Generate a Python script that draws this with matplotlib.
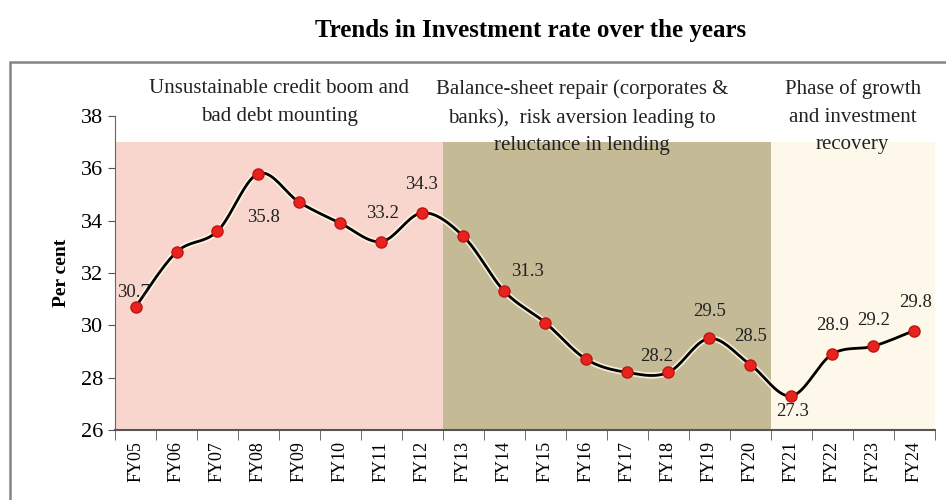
import numpy as np
import matplotlib.pyplot as plt
import matplotlib.patheffects as pe
from matplotlib.patches import Rectangle

plt.rcParams['font.family'] = ['Liberation Serif', 'DejaVu Serif']

years = ['FY05', 'FY06', 'FY07', 'FY08', 'FY09', 'FY10', 'FY11', 'FY12', 'FY13', 'FY14',
         'FY15', 'FY16', 'FY17', 'FY18', 'FY19', 'FY20', 'FY21', 'FY22', 'FY23', 'FY24']
rate = [30.7, 32.8, 33.6, 35.8, 34.7, 33.9, 33.2, 34.3, 33.4, 31.3,
        30.1, 28.7, 28.2, 28.2, 29.5, 28.5, 27.3, 28.9, 29.2, 29.8]

# phases: first year, last year, colour, caption
phase_start = ['FY05', 'FY13', 'FY21']
phase_end = ['FY12', 'FY20', 'FY24']
phase_color = ['#f8d6cd', '#c4ba96', '#fdf8ea']
phase_text = ['Unsustainable credit boom and\nbad debt mounting',
              'Balance-sheet repair (corporates &\nbanks),  risk aversion leading to\nreluctance in lending',
              'Phase of growth\nand investment\nrecovery']
caption_shift = [0, -0.6, 0]
shade_top = 37

# which points get a value label and where (dx, dy in pixels)
label_pos = {'FY05': (-2, 15), 'FY08': (5, -44), 'FY11': (1, 28), 'FY12': (-1, 28),
             'FY14': (23, 20), 'FY18': (-12, 16), 'FY19': (0, 27), 'FY20': (0, 28),
             'FY21': (1, -16), 'FY22': (0, 29), 'FY23': (0, 26), 'FY24': (1, 28)}


def smooth(x, y, n=20):
    # Catmull-Rom curve through the points, like a smoothed spreadsheet line
    p = np.column_stack([x, y]).astype(float)
    p = np.vstack([p[0], p, p[-1]])
    out = []
    for i in range(1, len(p) - 2):
        p0, p1, p2, p3 = p[i - 1], p[i], p[i + 1], p[i + 2]
        t = np.linspace(0, 1, n, endpoint=False)[:, None]
        seg = 0.5 * ((2 * p1) + (-p0 + p2) * t + (2 * p0 - 5 * p1 + 4 * p2 - p3) * t ** 2
                     + (-p0 + 3 * p1 - 3 * p2 + p3) * t ** 3)
        out.append(seg)
    out.append(p[-2][None, :])
    out = np.vstack(out)
    return out[:, 0], out[:, 1]


fig = plt.figure(figsize=(9.46, 5), dpi=100)
ax = fig.add_axes([0.1216, 0.14, 0.8664, 0.628])

# outer frame
fig.patches.append(Rectangle((10 / 946, -0.1), 1.1, 1.1 - 62 / 500, transform=fig.transFigure,
                             fill=False, edgecolor='#858585', linewidth=1.8))

fig.text(0.561, 0.94, 'Trends in Investment rate over the years', ha='center', va='center',
         fontsize=18, fontweight='bold')

x = np.arange(len(years))
for s, e, c, t, sh in zip(phase_start, phase_end, phase_color, phase_text, caption_shift):
    i0, i1 = years.index(s) - 0.5, years.index(e) + 0.5
    ax.fill_between([i0, i1], 26, shade_top, color=c, linewidth=0, zorder=0)
    ax.text((i0 + i1) / 2 + sh, 39.4, t, ha='center', va='top', fontsize=15,
            linespacing=1.6, clip_on=False, color='#222222')

sx, sy = smooth(x, rate)
ax.plot(sx, sy, color='black', linewidth=2, zorder=3,
        path_effects=[pe.Stroke(linewidth=4.5, foreground='#fffbe6', alpha=0.8), pe.Normal()])
ax.plot(x, rate, 'o', color='#e8231f', markeredgecolor='#c01510', markersize=8, zorder=4)

for yr, (dx, dy) in label_pos.items():
    i = years.index(yr)
    ax.annotate(f'{rate[i]:.1f}', (x[i], rate[i]), xytext=(dx, dy), textcoords='offset pixels',
                ha='center', va='center', fontsize=13.5, color='#222222', zorder=5)

ax.set_xlim(-0.5, len(years) - 0.5)
ax.set_ylim(26, 38)
ax.set_yticks(range(26, 39, 2))
ax.set_xticks(x)
ax.set_xticklabels(years, rotation=90, fontsize=13)
ax.set_xticks(np.arange(-0.5, len(years)), minor=True)
ax.tick_params(axis='x', which='major', length=0, pad=8)
ax.tick_params(axis='x', which='minor', length=7, color='#555555', direction='out')
ax.tick_params(axis='y', labelsize=16, length=5, color='#555555')
for side in ['top', 'right']:
    ax.spines[side].set_visible(False)
ax.spines['left'].set_color('#666666')
ax.spines['bottom'].set_color('#555555')
ax.spines['bottom'].set_linewidth(1.5)
ax.set_ylabel('Per cent', fontsize=14, fontweight='bold', labelpad=8)

fig.savefig('out.png', dpi=100)
